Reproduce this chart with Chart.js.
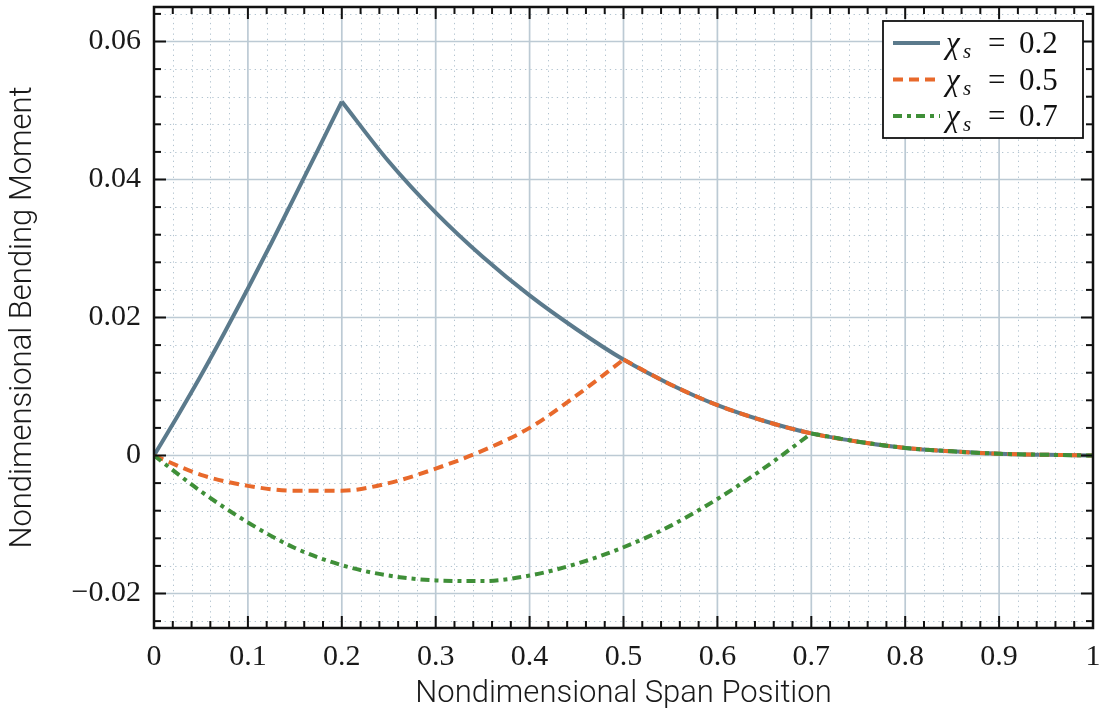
<!DOCTYPE html>
<html>
<head>
<meta charset="utf-8">
<script src="https://cdn.jsdelivr.net/npm/chart.js@4.4.0/dist/chart.umd.min.js"></script>
<style>
  html, body { margin: 0; padding: 0; background: #fff; }
  #wrap { width: 1103px; height: 716px; }
</style>
</head>
<body>
<div id="wrap"><canvas id="c" width="1103" height="716"></canvas></div>
<script>
/* Momento fletor adimensional ao longo do vão, para três posições de carga. */
const xSubida02 = [0, 0.025, 0.05, 0.075, 0.1, 0.125, 0.15, 0.175, 0.2];
const ySubida02 = [0, 0.0057, 0.0116, 0.0178, 0.0242, 0.0308, 0.0376, 0.0444, 0.0513];

const xDescida02 = [0.2, 0.25, 0.3, 0.35, 0.4, 0.45, 0.5, 0.55, 0.6, 0.65, 0.7, 0.75, 0.8, 0.85, 0.9, 0.95, 1.0];
const yDescida02 = [0.0513, 0.0426, 0.0352, 0.0288, 0.0232, 0.0183, 0.0139, 0.0103, 0.0073, 0.0050, 0.0032, 0.0020, 0.0011, 0.0006, 0.00025, 0.0001, 0];

const xAntes05 = [0, 0.05, 0.1, 0.15, 0.2, 0.25, 0.3, 0.35, 0.4, 0.45, 0.5];
const yAntes05 = [0, -0.0028, -0.0044, -0.0051, -0.0051, -0.0040, -0.0019, 0.0007, 0.0040, 0.0087, 0.0139];
const xDepois05 = [0.5, 0.55, 0.6, 0.65, 0.7, 0.75, 0.8, 0.85, 0.9, 0.95, 1.0];
const yDepois05 = [0.0139, 0.0103, 0.0073, 0.0050, 0.0032, 0.0020, 0.0011, 0.0006, 0.00025, 0.0001, 0];

const xAntes07 = [0, 0.05, 0.1, 0.15, 0.2, 0.25, 0.3, 0.35, 0.4, 0.45, 0.5, 0.55, 0.6, 0.65, 0.7];
const yAntes07 = [0, -0.0052, -0.0097, -0.0134, -0.0159, -0.0174, -0.0181, -0.0182, -0.0174, -0.0157, -0.0133, -0.0102, -0.0063, -0.0018, 0.0032];
const xDepois07 = [0.7, 0.75, 0.8, 0.85, 0.9, 0.95, 1.0];
const yDepois07 = [0.0032, 0.0020, 0.0011, 0.0006, 0.00025, 0.0001, 0];

const xTicks = [0, 0.1, 0.2, 0.3, 0.4, 0.5, 0.6, 0.7, 0.8, 0.9, 1];
const xTickLabels = ["0", "0.1", "0.2", "0.3", "0.4", "0.5", "0.6", "0.7", "0.8", "0.9", "1"];
const yTicks = [-0.02, 0, 0.02, 0.04, 0.06];
const yTickLabels = ["\u22120.02", "0", "0.02", "0.04", "0.06"];
const legendaValores = ["0.2", "0.5", "0.7"];

const SERIES = [
  { cor: "#5b7a8c", largura: 4, dash: [] },
  { cor: "#e8692b", largura: 4, dash: [10, 6] },
  { cor: "#3f8f38", largura: 4, dash: [9, 5, 4, 5] },
];

const FONTE_SERIF = "'Liberation Serif', 'DejaVu Serif', serif";
const FONTE_SANS = "Roboto, 'Noto Sans', sans-serif";

function pontos(xs, ys) {
  return xs.map((x, i) => ({ x, y: ys[i] }));
}

function serie(xs, ys, s, ordem) {
  return {
    data: pontos(xs, ys),
    borderColor: s.cor,
    borderWidth: s.largura,
    borderDash: s.dash,
    borderCapStyle: "butt",
    pointRadius: 0,
    fill: false,
    cubicInterpolationMode: "monotone",
    order: ordem,
  };
}

function linha(ctx, x1, y1, x2, y2) {
  ctx.beginPath();
  ctx.moveTo(x1, y1);
  ctx.lineTo(x2, y2);
  ctx.stroke();
}

function semFolga(s) {
  s.paddingTop = 0;
  s.paddingBottom = 0;
  s.paddingLeft = 0;
  s.paddingRight = 0;
}

const decoracao = {
  id: "decoracao",
  beforeDatasetsDraw(chart) {
    const { ctx, chartArea: a, scales: { x, y } } = chart;
    ctx.save();
    // grade secundária pontilhada
    ctx.strokeStyle = "#b3c4d0";
    ctx.lineWidth = 1;
    ctx.setLineDash([1.3, 4]);
    for (let i = 1; i < 50; i++) {
      if (i % 5 === 0) continue;
      const px = Math.round(x.getPixelForValue(i * 0.02)) + 0.5;
      linha(ctx, px, a.top, px, a.bottom);
    }
    for (let i = -6; i <= 16; i++) {
      if (i % 5 === 0) continue;
      const py = Math.round(y.getPixelForValue(i * 0.004)) + 0.5;
      linha(ctx, a.left, py, a.right, py);
    }
    // grade principal
    ctx.setLineDash([]);
    ctx.strokeStyle = "#bccad4";
    ctx.lineWidth = 1.7;
    xTicks.forEach(v => {
      const px = x.getPixelForValue(v);
      linha(ctx, px, a.top, px, a.bottom);
    });
    yTicks.forEach(v => {
      const py = y.getPixelForValue(v);
      linha(ctx, a.left, py, a.right, py);
    });
    ctx.restore();
  },
  afterDatasetsDraw(chart) {
    const { ctx, chartArea: a, scales: { x, y } } = chart;
    ctx.save();
    ctx.setLineDash([]);
    ctx.strokeStyle = "#111";
    ctx.lineWidth = 2;
    // marcas para dentro nos quatro lados
    for (let i = 0; i <= 50; i++) {
      const px = x.getPixelForValue(i * 0.02);
      const len = i % 5 === 0 ? 12 : 7;
      linha(ctx, px, a.bottom, px, a.bottom - len);
      linha(ctx, px, a.top, px, a.top + len);
    }
    for (let i = -6; i <= 16; i++) {
      const py = y.getPixelForValue(i * 0.004);
      const len = i % 5 === 0 ? 12 : 7;
      linha(ctx, a.left, py, a.left + len, py);
      linha(ctx, a.right, py, a.right - len, py);
    }
    ctx.lineWidth = 2.5;
    ctx.strokeRect(a.left, a.top, a.right - a.left, a.bottom - a.top);

    // títulos dos eixos
    ctx.fillStyle = "#1a1a1a";
    ctx.font = "300 31px " + FONTE_SANS;
    ctx.textAlign = "center";
    ctx.textBaseline = "middle";
    ctx.fillText("Nondimensional Span Position", (a.left + a.right) / 2, 694);
    ctx.save();
    ctx.translate(23, (a.top + a.bottom) / 2);
    ctx.rotate(-Math.PI / 2);
    ctx.fillText("Nondimensional Bending Moment", 0, 0);
    ctx.restore();

    desenharLegenda(ctx);
    ctx.restore();
  },
};

function desenharLegenda(ctx) {
  const bx = 883, by = 21, bw = 200, bh = 117;
  ctx.fillStyle = "#fff";
  ctx.fillRect(bx, by, bw, bh);
  ctx.strokeStyle = "#111";
  ctx.lineWidth = 1.8;
  ctx.strokeRect(bx, by, bw, bh);
  ctx.textAlign = "left";
  ctx.textBaseline = "alphabetic";
  SERIES.forEach((s, i) => {
    const yy = 43 + i * 36.5;
    ctx.setLineDash(s.dash);
    ctx.strokeStyle = s.cor;
    ctx.lineWidth = s.largura;
    linha(ctx, 893, yy, 940, yy);
    ctx.setLineDash([]);
    ctx.fillStyle = "#111";
    ctx.font = "italic 31px " + FONTE_SERIF;
    ctx.fillText("\u03c7", 946, yy + 10);
    ctx.font = "italic 21px " + FONTE_SERIF;
    ctx.fillText("s", 963, yy + 15);
    ctx.font = "31px " + FONTE_SERIF;
    ctx.fillText("=", 988, yy + 10);
    ctx.fillText(legendaValores[i], 1019, yy + 10);
  });
}

new Chart(document.getElementById("c"), {
  type: "line",
  data: {
    datasets: [
      serie(xSubida02, ySubida02, SERIES[0], 3),
      serie(xDescida02, yDescida02, SERIES[0], 3),
      serie(xAntes05, yAntes05, SERIES[1], 2),
      serie(xDepois05, yDepois05, SERIES[1], 2),
      serie(xAntes07, yAntes07, SERIES[2], 1),
      serie(xDepois07, yDepois07, SERIES[2], 1),
    ],
  },
  options: {
    responsive: false,
    animation: false,
    devicePixelRatio: 1,
    layout: { padding: { top: 7, right: 10, left: 0, bottom: 0 } },
    plugins: { legend: { display: false }, tooltip: { enabled: false } },
    scales: {
      x: {
        type: "linear",
        min: 0,
        max: 1,
        grid: { display: false, drawTicks: false },
        border: { display: false },
        afterBuildTicks: s => { s.ticks = xTicks.map(v => ({ value: v })); },
        afterFit: s => { s.height = 88; semFolga(s); },
        ticks: {
          padding: 11,
          color: "#1a1a1a",
          font: { family: FONTE_SERIF, size: 30 },
          maxRotation: 0,
          autoSkip: false,
          callback: (v, i) => xTickLabels[i],
        },
      },
      y: {
        type: "linear",
        min: -0.025,
        max: 0.065,
        grid: { display: false, drawTicks: false },
        border: { display: false },
        afterBuildTicks: s => { s.ticks = yTicks.map(v => ({ value: v })); },
        afterFit: s => { s.width = 154; semFolga(s); },
        ticks: {
          padding: 13,
          color: "#1a1a1a",
          font: { family: FONTE_SERIF, size: 30 },
          autoSkip: false,
          callback: (v, i) => yTickLabels[i],
        },
      },
    },
  },
  plugins: [decoracao],
});
</script>
</body>
</html>
